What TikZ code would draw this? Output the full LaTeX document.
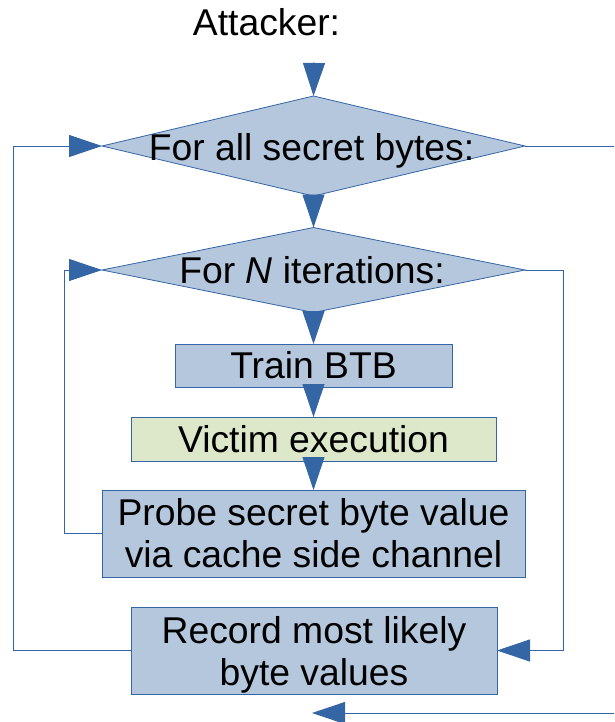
\documentclass[tikz,border=0pt]{standalone}
\usepackage{fontspec}
\setmainfont{Liberation Sans}
\usetikzlibrary{shapes.geometric,arrows.meta}
\definecolor{edgeblue}{HTML}{3465A4}
\definecolor{boxblue}{HTML}{B4C7DC}
\definecolor{boxgreen}{HTML}{DDE8CB}

\begin{document}
\begin{tikzpicture}[x=1pt,y=-1pt,
  every node/.style={font=\fontsize{37.3}{42}\selectfont},
  oneline/.style={inner sep=0pt, text height=26.7pt, text depth=0pt},
  decision/.style={diamond, draw=edgeblue, fill=boxblue, line width=0.8pt,
    inner sep=0pt, outer sep=0pt, minimum width=423pt, minimum height=100pt},
  stepbox/.style={rectangle, draw=edgeblue, fill=boxblue, line width=0.8pt,
    inner sep=0pt, outer sep=0pt, align=center},
  wire/.style={draw=edgeblue, line width=0.9pt},
  flow/.style={wire, -{Triangle[length=33pt,width=22pt]}}]

\useasboundingbox (0,0) rectangle (614,722);

% heading
\node[oneline] (att) at (266.5,22.5) {Attacker:};
\coordinate (entry) at (314,62);

% loop decisions
\node[decision] (d1) at (313.5,146) {};
\node[decision, minimum height=85pt] (d2) at (313.5,270) {};
\node[oneline] (d1t) at (311.5,147.5) {For all secret bytes:};
\node[oneline] (d2t) at (312,270.5) {For \textit{N} iterations:};

% steps
\node[stepbox, oneline, minimum width=277pt, minimum height=43pt] (train) at (313.5,365.5) {Train BTB};
\node[stepbox, oneline, fill=boxgreen, minimum width=365pt, minimum height=44pt] (victim) at (313.5,439) {Victim execution};
\node[stepbox, minimum width=423pt, minimum height=87pt] (probe) at (313.5,533.5) {Probe secret byte value\\via cache side channel};
\node[stepbox, minimum width=366pt, minimum height=87pt] (rec) at (314,650.5)
  {Record most likely\\\raisebox{0pt}[\height][0pt]{byte values}};

% exit path leaving the picture
\coordinate (exitR) at (614,146);
\coordinate (exitB) at (614,713);
\coordinate (exitTip) at (312,713);

% connectors
\draw[flow] (entry) -- (d1.north);
\draw[flow] (d1.south) -- (d2.north);
\draw[flow] (d2.south) -- (train.north);
\draw[flow] (train.south) -- (victim.north);
\draw[flow] (victim.south) -- (probe.north);
\draw[flow] (probe.west) -- (64,533.5) |- (d2.west);
\draw[flow] (d2.east) -- (563,270) |- (rec.east);
\draw[flow] (rec.west) -- (13,650.5) |- (d1.west);
\draw[wire] (d1.east) -- (exitR);
\draw[flow] (exitB) -- (exitTip);
\end{tikzpicture}
\end{document}
